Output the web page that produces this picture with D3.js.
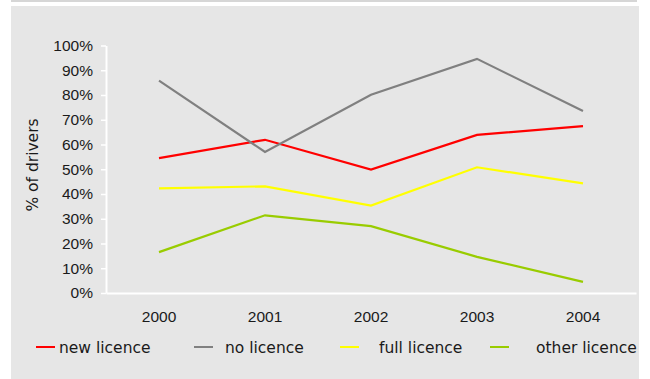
<!DOCTYPE html>
<html lang="en">
<head>
    <meta charset="UTF-8">
    <title>Drivers by licence type</title>
    <script src="https://d3js.org/d3.v7.min.js"></script>
    <style>
        body { margin: 0; background: #fff; }
        #chart svg { font-family: "DejaVu Sans", Verdana, sans-serif; display: block; }
    </style>
</head>
<body>
<div id="chart"></div>

<script>
var years = ["2000", "2001", "2002", "2003", "2004"];
var seriesNames = ["new licence", "no licence", "full licence", "other licence"];
var newLicence = [54.5, 61.9, 49.9, 63.9, 67.4];
var noLicence = [85.8, 57.0, 80.1, 94.6, 73.5];
var fullLicence = [42.3, 43.1, 35.3, 50.8, 44.3];
var otherLicence = [16.5, 31.4, 27.0, 14.6, 4.5];
var yTicks = [0, 10, 20, 30, 40, 50, 60, 70, 80, 90, 100];
var colors = ["#ff0000", "#808080", "#ffff00", "#99cc00"];

var width = 650, height = 379;
var fontSize = "15.5px";
var svg = d3.select("#chart").append("svg")
    .attr("width", width)
    .attr("height", height);

// panel + thin strip on top
svg.append("rect").attr("x", 11).attr("y", 0).attr("width", 626).attr("height", 2).attr("fill", "#d6d6d6");
svg.append("rect").attr("x", 11).attr("y", 6).attr("width", 628).attr("height", 373).attr("fill", "#e6e6e6");

var x = d3.scaleBand().domain(years).range([106, 636]);
var y = d3.scaleLinear().domain([0, 100]).range([293, 45.5]);

// y axis
var yAxis = svg.append("g")
    .attr("transform", "translate(106,0)")
    .call(d3.axisLeft(y).tickValues(yTicks).tickSize(5).tickSizeOuter(0).tickPadding(8).tickFormat(d => d + "%"));
yAxis.select(".domain").attr("stroke", "#fff").attr("stroke-width", 2);
yAxis.selectAll(".tick line").attr("stroke", "#fff").attr("stroke-width", 1.5);
yAxis.selectAll("text").attr("fill", "#1a1a1a").style("font-size", fontSize);

// x axis
var xAxis = svg.append("g")
    .attr("transform", "translate(0,293)")
    .call(d3.axisBottom(x).tickSize(0).tickPadding(18));
xAxis.select(".domain").attr("stroke", "#fff").attr("stroke-width", 2);
xAxis.selectAll("text").attr("fill", "#1a1a1a").style("font-size", fontSize);

svg.append("text")
    .attr("transform", "translate(38,165) rotate(-90)")
    .attr("text-anchor", "middle")
    .attr("fill", "#1a1a1a")
    .style("font-size", fontSize)
    .text("% of drivers");

var allSeries = [newLicence, noLicence, fullLicence, otherLicence];
var line = d3.line()
    .x((d, i) => x(years[i]) + x.bandwidth() / 2)
    .y(d => y(d));

allSeries.forEach(function(vals, k) {
    svg.append("path")
        .datum(vals)
        .attr("fill", "none")
        .attr("stroke", colors[k])
        .attr("stroke-width", 2.2)
        .attr("d", line);
});

// legend
var legendX = [36, 194, 340, 490];
var legend = svg.selectAll(".legend-item")
    .data(seriesNames)
    .enter().append("g")
    .attr("class", "legend-item")
    .attr("transform", (d, i) => `translate(${legendX[i]},347)`);
legend.append("line")
    .attr("x1", 0).attr("x2", 19)
    .attr("stroke", (d, i) => colors[i])
    .attr("stroke-width", 2);
legend.append("text")
    .attr("x", (d, i) => [23, 31, 39, 46][i])
    .attr("y", 6)
    .attr("fill", "#1a1a1a")
    .style("font-size", fontSize)
    .text(d => d);
</script>
</body>
</html>
